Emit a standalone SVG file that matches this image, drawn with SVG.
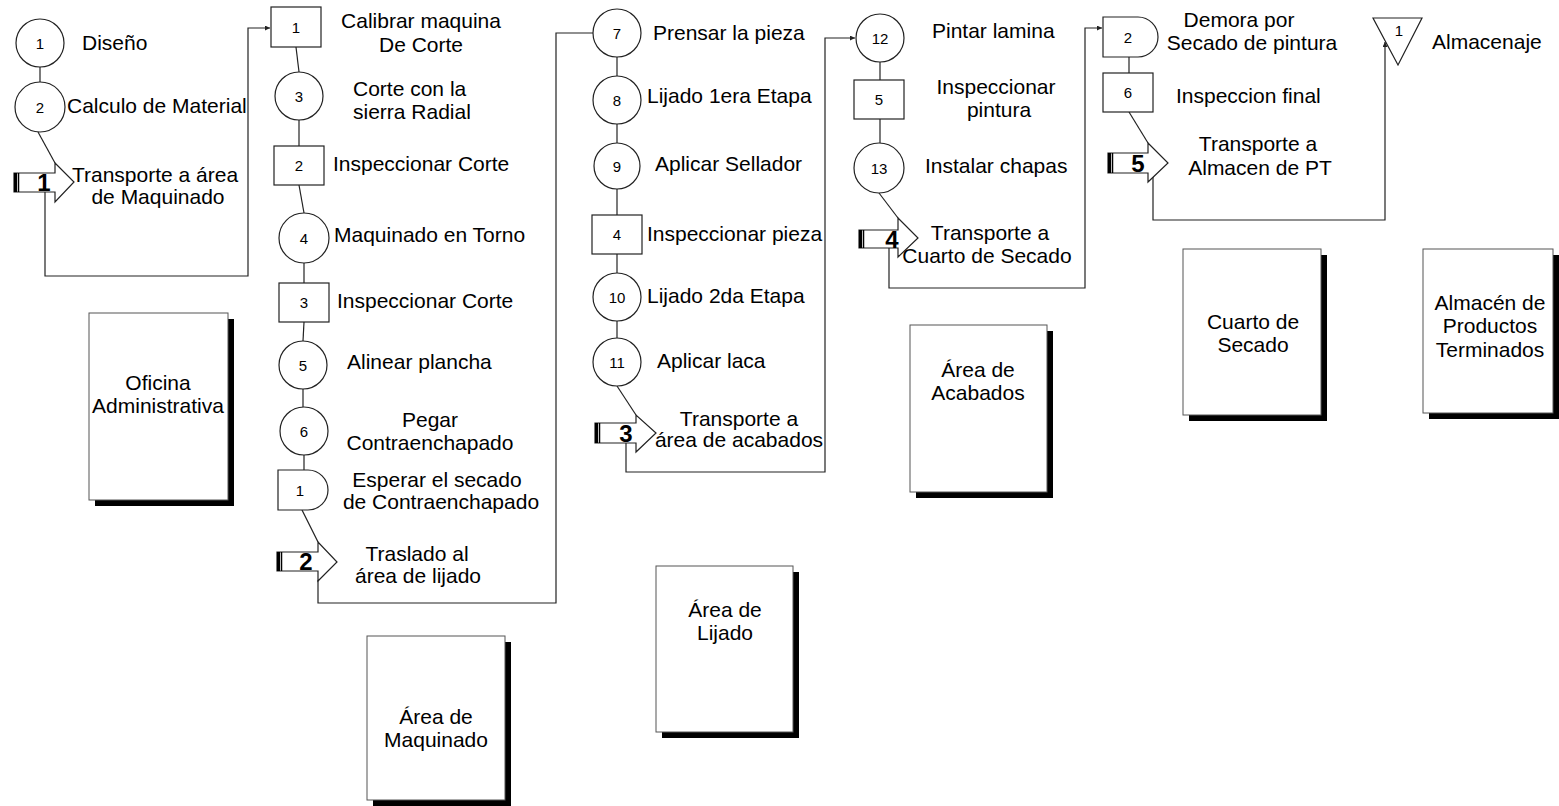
<svg xmlns="http://www.w3.org/2000/svg" width="1559" height="806" viewBox="0 0 1559 806">
<defs>
<marker id="ah" viewBox="0 0 6 6" refX="6" refY="3" markerWidth="5" markerHeight="5" orient="auto" markerUnits="userSpaceOnUse">
<path d="M0,0 L6,3 L0,6 z" fill="#222"/>
</marker>
<style>
.s{fill:#fff;stroke:#222;stroke-width:1.2}
.c{fill:none;stroke:#222;stroke-width:1.2}
.n{font-family:"Liberation Sans",Arial,sans-serif;font-size:15px;text-anchor:middle;dominant-baseline:central;fill:#000}
.t{font-family:"Liberation Sans",Arial,sans-serif;font-size:21px;fill:#000}
.m{text-anchor:middle}
.b{font-family:"Liberation Sans",Arial,sans-serif;font-size:24px;font-weight:bold;text-anchor:middle;fill:#000}
.area{fill:#fff;stroke:#555;stroke-width:1}
.sh{fill:#000}
</style>
</defs>
<rect width="1559" height="806" fill="#fff"/>

<g id="connectors">
<line class="c" x1="40" y1="67" x2="40" y2="82"/>
<line class="c" x1="38" y1="132" x2="55" y2="163"/>
<path class="c" d="M45,192 V276 H248 V28 H270" marker-end="url(#ah)"/>
<line class="c" x1="296" y1="47" x2="299" y2="72"/>
<line class="c" x1="299" y1="120" x2="299" y2="146"/>
<line class="c" x1="299" y1="185" x2="304" y2="213"/>
<line class="c" x1="304" y1="263" x2="304" y2="283"/>
<line class="c" x1="304" y1="322" x2="303" y2="341"/>
<line class="c" x1="303" y1="389" x2="303" y2="407"/>
<line class="c" x1="304" y1="455" x2="304" y2="470"/>
<line class="c" x1="302" y1="510" x2="318" y2="542"/>
<path class="c" d="M318,580 V603 H556 V33 H593"/>
<line class="c" x1="617" y1="57" x2="617" y2="76"/>
<line class="c" x1="617" y1="124" x2="617" y2="143"/>
<line class="c" x1="617" y1="189" x2="617" y2="215"/>
<line class="c" x1="617" y1="254" x2="617" y2="273"/>
<line class="c" x1="617" y1="321" x2="617" y2="338"/>
<line class="c" x1="617" y1="386" x2="636" y2="415"/>
<path class="c" d="M626,443 V472 H825 V38 H855" marker-end="url(#ah)"/>
<line class="c" x1="880" y1="62" x2="880" y2="80"/>
<line class="c" x1="880" y1="119" x2="880" y2="143"/>
<line class="c" x1="879" y1="193" x2="898" y2="218"/>
<path class="c" d="M889,248 V288 H1085 V28 H1102" marker-end="url(#ah)"/>
<line class="c" x1="1129" y1="57" x2="1129" y2="73"/>
<line class="c" x1="1129" y1="112" x2="1148" y2="143"/>
<path class="c" d="M1153,177 V220 H1385 V42" marker-end="url(#ah)"/>
</g>

<g id="op1"><circle class="s" cx="40" cy="43" r="24"/><text class="n" x="40" y="43">1</text><text class="t" x="82" y="50">Diseño</text></g>
<g id="op2"><circle class="s" cx="40" cy="107" r="25"/><text class="n" x="40" y="107">2</text><text class="t" x="67" y="113">Calculo de Material</text></g>
<g id="tr1">
<polygon class="s" points="14,173 55,173 55,163 74,182 55,202 55,192 14,192"/>
<rect class="sh" x="14" y="173" width="3" height="19"/><line x1="18.5" y1="173" x2="18.5" y2="192" stroke="#000" stroke-width="1.5"/>
<text class="b" x="44" y="191">1</text>
<text class="t m" x="155" y="182">Transporte a área</text><text class="t m" x="158" y="204">de Maquinado</text>
</g>

<g id="in1"><rect class="s" x="271" y="7" width="50" height="40"/><text class="n" x="296" y="27">1</text><text class="t m" x="421" y="28">Calibrar maquina</text><text class="t m" x="421" y="52">De Corte</text></g>
<g id="op3"><circle class="s" cx="299" cy="96" r="24"/><text class="n" x="299" y="96">3</text><text class="t" x="353" y="96">Corte con la</text><text class="t" x="353" y="119">sierra Radial</text></g>
<g id="in2"><rect class="s" x="274" y="146" width="50" height="39"/><text class="n" x="299" y="165">2</text><text class="t" x="333" y="171">Inspeccionar Corte</text></g>
<g id="op4"><circle class="s" cx="304" cy="238" r="25"/><text class="n" x="304" y="238">4</text><text class="t" x="334" y="242">Maquinado en Torno</text></g>
<g id="in3"><rect class="s" x="279" y="283" width="50" height="39"/><text class="n" x="304" y="302">3</text><text class="t" x="337" y="308">Inspeccionar Corte</text></g>
<g id="op5"><circle class="s" cx="303" cy="365" r="24"/><text class="n" x="303" y="365">5</text><text class="t" x="347" y="369">Alinear plancha</text></g>
<g id="op6"><circle class="s" cx="304" cy="431" r="24"/><text class="n" x="304" y="431">6</text><text class="t m" x="430" y="427">Pegar</text><text class="t m" x="430" y="450">Contraenchapado</text></g>
<g id="de1"><path class="s" d="M278,470 H308 A20,20 0 0 1 308,510 H278 Z"/><text class="n" x="300" y="490">1</text><text class="t m" x="437" y="487">Esperar el secado</text><text class="t m" x="441" y="509">de Contraenchapado</text></g>
<g id="tr2">
<polygon class="s" points="277,552 318,552 318,542 337,562 318,581 318,571 277,571"/>
<rect class="sh" x="277" y="552" width="3" height="19"/><line x1="281.5" y1="552" x2="281.5" y2="571" stroke="#000" stroke-width="1.5"/>
<text class="b" x="306" y="570">2</text>
<text class="t m" x="417" y="561">Traslado al</text><text class="t m" x="418" y="583">área de lijado</text>
</g>

<g id="op7"><circle class="s" cx="617" cy="33" r="24"/><text class="n" x="617" y="33">7</text><text class="t" x="653" y="40">Prensar la pieza</text></g>
<g id="op8"><circle class="s" cx="617" cy="100" r="24"/><text class="n" x="617" y="100">8</text><text class="t" x="647" y="103">Lijado 1era Etapa</text></g>
<g id="op9"><circle class="s" cx="617" cy="166" r="23"/><text class="n" x="617" y="166">9</text><text class="t" x="655" y="171">Aplicar Sellador</text></g>
<g id="in4"><rect class="s" x="592" y="215" width="50" height="39"/><text class="n" x="617" y="234">4</text><text class="t" x="647" y="241">Inspeccionar pieza</text></g>
<g id="op10"><circle class="s" cx="617" cy="297" r="24"/><text class="n" x="617" y="297">10</text><text class="t" x="647" y="303">Lijado 2da Etapa</text></g>
<g id="op11"><circle class="s" cx="617" cy="362" r="24"/><text class="n" x="617" y="362">11</text><text class="t" x="657" y="368">Aplicar laca</text></g>
<g id="tr3">
<polygon class="s" points="595,423 636,423 636,415 656,433 636,452 636,443 595,443"/>
<rect class="sh" x="595" y="423" width="3" height="20"/><line x1="599.5" y1="423" x2="599.5" y2="443" stroke="#000" stroke-width="1.5"/>
<text class="b" x="626" y="442">3</text>
<text class="t m" x="739" y="426">Transporte a</text><text class="t m" x="739" y="447">área de acabados</text>
</g>

<g id="op12"><circle class="s" cx="880" cy="38" r="24"/><text class="n" x="880" y="38">12</text><text class="t" x="932" y="38">Pintar lamina</text></g>
<g id="in5"><rect class="s" x="854" y="80" width="50" height="39"/><text class="n" x="879" y="99">5</text><text class="t m" x="996" y="94">Inspeccionar</text><text class="t m" x="999" y="117">pintura</text></g>
<g id="op13"><circle class="s" cx="879" cy="168" r="25"/><text class="n" x="879" y="168">13</text><text class="t" x="925" y="173">Instalar chapas</text></g>
<g id="tr4">
<polygon class="s" points="859,230 898,230 898,218 918,238 898,257 898,248 859,248"/>
<rect class="sh" x="859" y="230" width="3" height="18"/><line x1="863.5" y1="230" x2="863.5" y2="248" stroke="#000" stroke-width="1.5"/>
<text class="b" x="892" y="248">4</text>
<text class="t m" x="990" y="240">Transporte a</text><text class="t m" x="987" y="263">Cuarto de Secado</text>
</g>

<g id="de2"><path class="s" d="M1103,17 H1138 A20,20 0 0 1 1138,57 H1103 Z"/><text class="n" x="1128" y="37">2</text><text class="t m" x="1239" y="27">Demora por</text><text class="t m" x="1252" y="50">Secado de pintura</text></g>
<g id="in6"><rect class="s" x="1103" y="73" width="50" height="39"/><text class="n" x="1128" y="92">6</text><text class="t" x="1176" y="103">Inspeccion final</text></g>
<g id="tr5">
<polygon class="s" points="1108,153 1148,153 1148,143 1168,163 1148,182 1148,173 1108,173"/>
<rect class="sh" x="1108" y="153" width="3" height="20"/><line x1="1112.5" y1="153" x2="1112.5" y2="173" stroke="#000" stroke-width="1.5"/>
<text class="b" x="1138" y="172">5</text>
<text class="t m" x="1258" y="151">Transporte a</text><text class="t m" x="1260" y="175">Almacen de PT</text>
</g>
<g id="st1"><polygon class="s" points="1373,18 1422,18 1398,65"/><text class="n" x="1399" y="30">1</text><text class="t" x="1432" y="49">Almacenaje</text></g>

<g id="area-oficina"><rect class="sh" x="95" y="319" width="139" height="187"/><rect class="area" x="89" y="313" width="139" height="187"/><text class="t m" x="158" y="390">Oficina</text><text class="t m" x="158" y="413">Administrativa</text></g>
<g id="area-maquinado"><rect class="sh" x="373" y="642" width="138" height="164"/><rect class="area" x="367" y="636" width="138" height="164"/><text class="t m" x="436" y="724">Área de</text><text class="t m" x="436" y="747">Maquinado</text></g>
<g id="area-lijado"><rect class="sh" x="662" y="572" width="137" height="166"/><rect class="area" x="656" y="566" width="137" height="166"/><text class="t m" x="725" y="617">Área de</text><text class="t m" x="725" y="640">Lijado</text></g>
<g id="area-acabados"><rect class="sh" x="916" y="331" width="137" height="167"/><rect class="area" x="910" y="325" width="137" height="167"/><text class="t m" x="978" y="377">Área de</text><text class="t m" x="978" y="400">Acabados</text></g>
<g id="area-secado"><rect class="sh" x="1189" y="255" width="138" height="166"/><rect class="area" x="1183" y="249" width="138" height="166"/><text class="t m" x="1253" y="329">Cuarto de</text><text class="t m" x="1253" y="352">Secado</text></g>
<g id="area-almacen"><rect class="sh" x="1429" y="255" width="130" height="164"/><rect class="area" x="1423" y="249" width="130" height="164"/><text class="t m" x="1490" y="310">Almacén de</text><text class="t m" x="1490" y="333">Productos</text><text class="t m" x="1490" y="357">Terminados</text></g>
</svg>
